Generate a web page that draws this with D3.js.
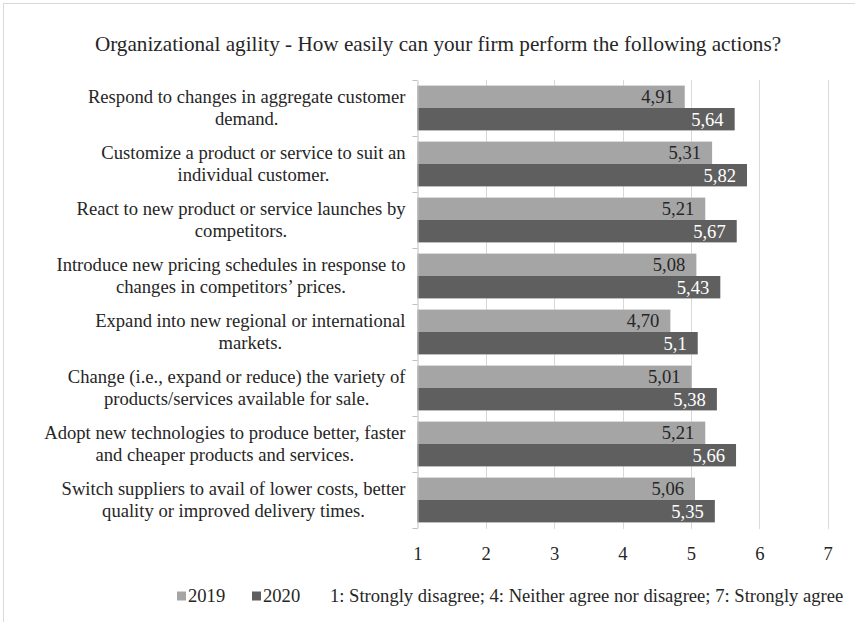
<!DOCTYPE html>
<html>
<head>
<meta charset="utf-8">
<script src="https://cdn.jsdelivr.net/npm/d3@7"></script>
<style>
  html, body { margin: 0; padding: 0; background: #fff; }
  svg { display: block; font-family: "Liberation Serif", "Times New Roman", serif; }
</style>
</head>
<body>
<svg id="chart" width="855" height="622"></svg>
<script>
// Survey items (each split into the two lines shown beside the bars)
const categories = [
  ["Respond to changes in aggregate customer", "demand."],
  ["Customize a product or service to suit an", "individual customer."],
  ["React to new product or service launches by", "competitors."],
  ["Introduce new pricing schedules in response to", "changes in competitors\u2019 prices."],
  ["Expand into new regional or international", "markets."],
  ["Change (i.e., expand or reduce) the variety of", "products/services available for sale."],
  ["Adopt new technologies to produce better, faster", "and cheaper products and services."],
  ["Switch suppliers to avail of lower costs, better", "quality or improved delivery times."]
];

// Mean scores as printed (decimal comma)
const scores2019 = ["4,91", "5,31", "5,21", "5,08", "4,70", "5,01", "5,21", "5,06"];
const scores2020 = ["5,64", "5,82", "5,67", "5,43", "5,1", "5,38", "5,66", "5,35"];

const seriesNames = ["2019", "2020"];
const xTicks = [1, 2, 3, 4, 5, 6, 7];

const titleText = "Organizational agility - How easily can your firm perform the following actions?";
const noteText = "1: Strongly disagree; 4: Neither agree nor disagree; 7: Strongly agree";

const colors = { "2019": "#A5A5A5", "2020": "#5F5F5F" };
const labelColors = { "2019": "#262626", "2020": "#FFFFFF" };

const toNum = s => +s.replace(",", ".");
const rows = categories.map((c, i) => ({
  key: i,
  lines: c,
  values: [
    { series: "2019", text: scores2019[i], value: toNum(scores2019[i]) },
    { series: "2020", text: scores2020[i], value: toNum(scores2020[i]) }
  ]
}));

const svg = d3.select("#chart");
const plot = { left: 417.3, right: 827.7, top: 80, bottom: 528 };
const FS = 18.6;

// Outer frame
svg.append("rect")
  .attr("x", 3.5).attr("y", 3.5)
  .attr("width", 900).attr("height", 700)
  .attr("fill", "none").attr("stroke", "#D9D9D9").attr("stroke-width", 1);

// Title
svg.append("text")
  .attr("x", 438).attr("y", 51)
  .attr("text-anchor", "middle")
  .attr("font-size", 21.2).attr("fill", "#262626")
  .text(titleText);

const x = d3.scaleLinear().domain([1, 7]).range([plot.left, plot.right]);
const y = d3.scaleBand().domain(rows.map(d => d.key))
  .range([plot.top, plot.bottom]).paddingInner(0.2).paddingOuter(0.1);
const ySub = d3.scaleBand().domain(seriesNames).range([0, y.bandwidth()]);

// Vertical gridlines
svg.append("g").selectAll("line")
  .data(xTicks.filter(t => t > 1))
  .join("line")
  .attr("x1", d => Math.round(x(d)) + 0.5).attr("x2", d => Math.round(x(d)) + 0.5)
  .attr("y1", plot.top).attr("y2", plot.bottom + 1)
  .attr("stroke", "#D9D9D9").attr("stroke-width", 1);

// X axis labels
const xAxis = d3.axisBottom(x).tickValues(xTicks).tickSize(0).tickPadding(0).tickFormat(d3.format("d"));
const gx = svg.append("g").attr("transform", `translate(0,${plot.bottom})`).call(xAxis);
gx.select(".domain").remove();
gx.selectAll("text")
  .attr("y", 32).attr("dy", null)
  .attr("font-family", "Liberation Serif, Times New Roman, serif")
  .attr("font-size", FS).attr("fill", "#262626");

// Bars
const groups = svg.append("g").selectAll("g")
  .data(rows).join("g")
  .attr("transform", d => `translate(0,${y(d.key)})`);

groups.selectAll("rect")
  .data(d => d.values).join("rect")
  .attr("x", x(1))
  .attr("y", d => ySub(d.series))
  .attr("width", d => x(d.value) - x(1))
  .attr("height", ySub.bandwidth())
  .attr("fill", d => colors[d.series]);

groups.selectAll("text.val")
  .data(d => d.values).join("text")
  .attr("class", "val")
  .attr("x", d => x(d.value) - 11)
  .attr("y", d => ySub(d.series) + ySub.bandwidth() / 2 + 6.5)
  .attr("text-anchor", "end")
  .attr("font-size", FS)
  .attr("fill", d => labelColors[d.series])
  .text(d => d.text);

// Category axis line with boundary ticks
const yAxis = d3.axisLeft(y).tickValues([]).tickSizeOuter(0);
const gy = svg.append("g").attr("transform", `translate(${Math.round(x(1)) + 0.5},0)`).call(yAxis);
gy.select(".domain").attr("stroke", "#BFBFBF");
const bounds = d3.range(rows.length + 1).map(i => plot.top + i * y.step());
gy.selectAll("line.bound").data(bounds).join("line")
  .attr("class", "bound")
  .attr("x1", -5).attr("x2", 0)
  .attr("y1", d => Math.round(d) + 0.5).attr("y2", d => Math.round(d) + 0.5)
  .attr("stroke", "#BFBFBF");

// Category labels: each two-line block centred on itself, right edge aligned
const labelRight = 405.5;
const lineH = 23;
groups.each(function (d) {
  const g = d3.select(this);
  const t = g.append("text")
    .attr("font-size", FS).attr("fill", "#262626").attr("text-anchor", "middle");
  const spans = t.selectAll("tspan").data(d.lines).join("tspan").text(s => s);
  const w = d3.max(spans.nodes(), n => n.getComputedTextLength());
  const cx = labelRight - w / 2;
  const mid = y.bandwidth() / 2;
  spans.attr("x", cx)
    .attr("y", (s, i) => mid - lineH / 2 + i * lineH + 6);
});

// Legend
const legend = svg.append("g").attr("transform", "translate(0,601.5)");
const legendItems = [
  { name: "2019", x: 177 },
  { name: "2020", x: 252 }
];
legendItems.forEach(it => {
  legend.append("rect").attr("x", it.x).attr("y", -10).attr("width", 9).attr("height", 9)
    .attr("fill", colors[it.name]);
  legend.append("text").attr("x", it.x + 11).attr("y", 0)
    .attr("font-size", FS).attr("fill", "#262626").text(it.name);
});
legend.append("text").attr("x", 330).attr("y", 0)
  .attr("font-size", FS).attr("fill", "#262626").text(noteText);
</script>
</body>
</html>
